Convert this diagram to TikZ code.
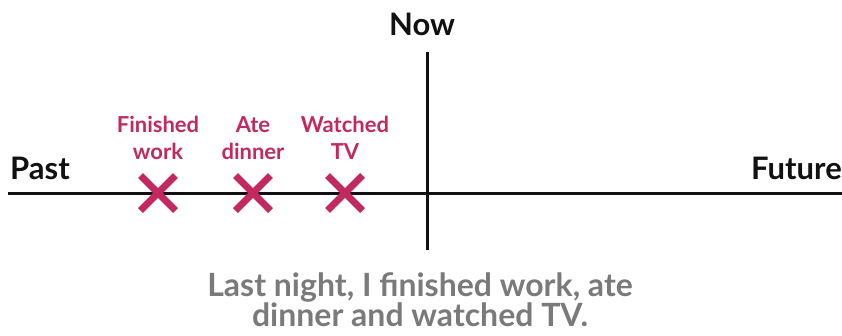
\documentclass[tikz,border=0pt]{standalone}
\usepackage{fontspec}
\setmainfont{Lato}
\usetikzlibrary{shapes.misc,positioning}
\definecolor{tlink}{HTML}{111111}
\definecolor{tlevent}{HTML}{C2295F}
\definecolor{tlnote}{HTML}{7A7A7A}

\begin{document}
\begin{tikzpicture}[
  x=1pt, y=-1pt,
  axis/.style={draw=tlink, line width=3pt},
  heading/.style={font=\fontsize{31}{34}\selectfont\bfseries, text=tlink, inner sep=0pt},
  event/.style={font=\fontsize{22}{27}\selectfont\bfseries, text=tlevent, align=center, inner sep=0pt},
  crossmark/.style={cross out, draw=tlevent, line width=7pt, minimum size=28pt, inner sep=0pt},
  note/.style={font=\fontsize{32}{30}\selectfont\bfseries, text=tlnote, align=center, inner sep=0pt}
]
\useasboundingbox (0,0) rectangle (842,335);
% time axis
\coordinate (start) at (8,193);
\coordinate (stop) at (842,193);
\coordinate (top) at (427,52);
\coordinate (bottom) at (427,250);
\draw[axis] (start) -- (stop);
\draw[axis] (top) -- (bottom);
\node[heading, anchor=base] (now) at (422,35) {Now};
\node[heading, anchor=base west] (past) at (10,179) {Past};
\node[heading, anchor=base east] (future) at (842,179) {Future};
% events
\node[crossmark] (x1) at (158,193) {};
\node[crossmark] (x2) at (253,193) {};
\node[crossmark] (x3) at (345,193) {};
\node[event, above=16pt of x1] (finished) {Finished\\work};
\node[event, above=16pt of x2] (dinner) {Ate\\dinner};
\node[event, above=16pt of x3] (tv) {Watched\\TV};
% sentence
\node[note, anchor=base] (sentence) at (420,326) {Last night, I finished work, ate\\dinner and watched TV.};
\end{tikzpicture}
\end{document}
